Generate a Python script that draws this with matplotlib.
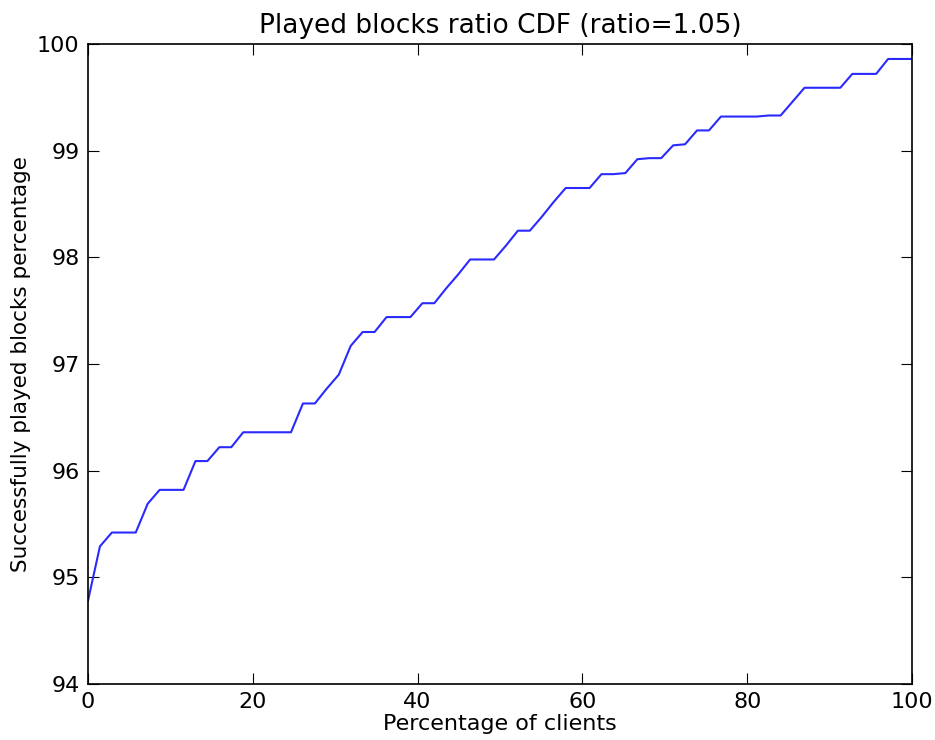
import numpy as np
import matplotlib
matplotlib.use("Agg")
import matplotlib.pyplot as plt

# ===[ Data ]==================================================================
n_clients = 70
clients_pct = np.linspace(0, 100, n_clients)
played_pct = [
    94.78, 95.29, 95.42, 95.42, 95.42, 95.69, 95.82, 95.82, 95.82, 96.09,
    96.09, 96.22, 96.22, 96.36, 96.36, 96.36, 96.36, 96.36, 96.63, 96.63,
    96.77, 96.90, 97.17, 97.30, 97.30, 97.44, 97.44, 97.44, 97.57, 97.57,
    97.71, 97.84, 97.98, 97.98, 97.98, 98.11, 98.25, 98.25, 98.38, 98.52,
    98.65, 98.65, 98.65, 98.78, 98.78, 98.79, 98.92, 98.93, 98.93, 99.05,
    99.06, 99.19, 99.19, 99.32, 99.32, 99.32, 99.32, 99.33, 99.33, 99.46,
    99.59, 99.59, 99.59, 99.59, 99.72, 99.72, 99.72, 99.86, 99.86, 99.86,
]

x_ticks = [0, 20, 40, 60, 80, 100]
y_ticks = [94, 95, 96, 97, 98, 99, 100]

# ===[ Plot ]==================================================================
fs = 16
fig = plt.figure(figsize=(9.35, 7.4), dpi=100)
ax = fig.add_axes([0.0941, 0.0757, 0.8813, 0.8648])
ax.plot(clients_pct, played_pct, color="#2a2aff", linewidth=1.5)

ax.set_xlim(0, 100)
ax.set_ylim(94, 100)
ax.set_xticks(x_ticks)
ax.set_yticks(y_ticks)
ax.tick_params(direction="in", top=True, right=True, length=8,
               labelsize=fs, pad=6)
for s in ax.spines.values():
    s.set_linewidth(1.2)

ax.set_title("Played blocks ratio CDF (ratio=1.05)", fontsize=19, pad=8)
ax.set_xlabel("Percentage of clients", fontsize=16, labelpad=1)
ax.set_ylabel("Successfully played blocks percentage", fontsize=15.5,
              labelpad=4)

fig.savefig("out.png", dpi=100)
